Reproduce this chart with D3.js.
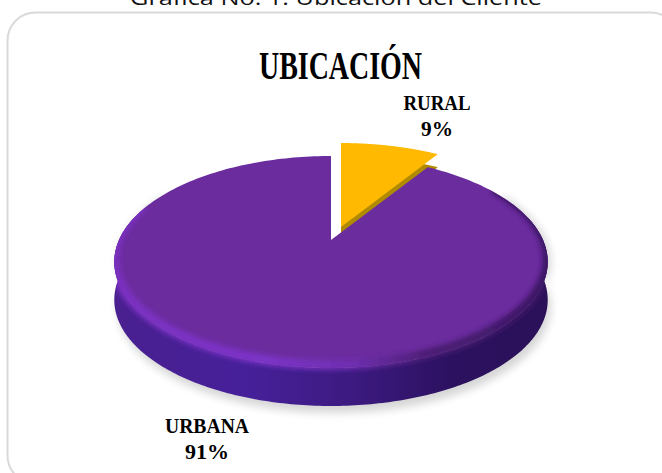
<!DOCTYPE html>
<html><head><meta charset="utf-8">
<script src="https://cdn.jsdelivr.net/npm/d3@7"></script>
<style>html,body{margin:0;background:#fff}svg{display:block}</style></head>
<body><svg id="c" width="662" height="473"></svg>
<script>
const categories = ["RURAL", "URBANA"];
const percents = [9, 91];
const labelText = ["9%", "91%"];
const titleText = "UBICACIÓN";
const captionText = "Gráfica No. 1: Ubicación del Cliente";
const topColors = ["#FFB900", "#6B2C9E"];

const svg = d3.select("#c");
const defs = svg.append("defs");
const cx = 331, cy = 240, A = 212, B = 101.4, K = 0.2075, depth = 38;
const project = (a, r = 1) => {
  const u = Math.sin(a) * r, v = -Math.cos(a) * r, w = 1 - K * v;
  return [A * u / w, B * v / w];
};
const pie = d3.pie().sort(null).value(d => d)(percents);
const line = d3.line();
const arcPts = (a0, a1) => d3.range(0, 241).map(i => project(a0 + (a1 - a0) * i / 240));
const wedge = d => line([[0, 0], ...arcPts(d.startAngle, d.endAngle)]) + "Z";
const frontAngles = [Math.acos(K), 2 * Math.PI - Math.acos(K)];
const sideShape = (a0, a1, dy) => {
  const t = arcPts(a0, a1), b = t.slice().reverse().map(p => [p[0], p[1] + dy]);
  return line([...t, ...b]) + "Z";
};

const grad = (id, stops) => {
  const g = defs.append("linearGradient").attr("id", id);
  stops.forEach(s => g.append("stop").attr("offset", s[0]).attr("stop-color", s[1]));
};
grad("side", [[0, "#4A2090"], [0.3, "#46209A"], [0.55, "#3C1A80"], [0.78, "#2C1160"], [1, "#2A1158"]]);
grad("hl", [[0, "#7A2FC0"], [0.35, "#7C34C8"], [0.55, "#6E2EB0"], [0.72, "#4C1E74"], [1, "#3A1664"]]);
const blur = (id, s) => defs.append("filter").attr("id", id).attr("x", "-20%").attr("y", "-20%")
  .attr("width", "140%").attr("height", "140%").append("feGaussianBlur").attr("stdDeviation", s);
blur("blur6", 4);
blur("blur2", 2.8);
defs.append("clipPath").attr("id", "bodyClip").selectAll("path")
  .data([wedge(pie[1]), sideShape(frontAngles[0] - 0.02, frontAngles[1] + 0.02, depth)])
  .join("path").attr("d", d => d);

svg.append("text").attr("x", 336).attr("y", 5).attr("text-anchor", "middle")
  .attr("font-family", "'Open Sans'").attr("font-size", 20).attr("fill", "#111")
  .attr("textLength", 412).attr("lengthAdjust", "spacingAndGlyphs").text(captionText);
svg.append("rect").attr("x", 7.5).attr("y", 12.5).attr("width", 671).attr("height", 471).attr("rx", 28)
  .attr("fill", "#fff").attr("stroke", "#D9D9D9").attr("stroke-width", 2);
svg.append("text").attr("x", 340.5).attr("y", 79).attr("text-anchor", "middle")
  .attr("font-family", "'Liberation Serif'").attr("font-weight", 700).attr("font-size", 39).attr("fill", "#000")
  .attr("textLength", 163).attr("lengthAdjust", "spacingAndGlyphs").text(titleText);

const pieG = svg.append("g").attr("transform", `translate(${cx},${cy})`);
pieG.append("path").attr("d", sideShape(frontAngles[0] - 0.3, frontAngles[1] + 0.3, depth + 7))
  .attr("fill", "#000").attr("opacity", 0.16).attr("filter", "url(#blur6)").attr("transform", "translate(3,0)");
const rural = pieG.append("g").attr("transform", "translate(10,-13)");
rural.append("path").attr("d", wedge(pie[0])).attr("transform", "translate(0,13)").attr("fill", "#B08B00");
rural.append("path").attr("d", wedge(pie[0])).attr("fill", topColors[0]);
pieG.append("path").attr("d", sideShape(frontAngles[0] - 0.02, frontAngles[1] + 0.02, depth)).attr("fill", "url(#side)");
pieG.append("path").attr("d", wedge(pie[1])).attr("fill", topColors[1]);
pieG.append("g").attr("clip-path", "url(#bodyClip)").append("path")
  .attr("d", line(arcPts(frontAngles[0] - 0.35, frontAngles[1] + 0.12).map(p => [p[0], p[1] - 3])))
  .attr("fill", "none").attr("stroke", "url(#hl)").attr("stroke-width", 10).attr("filter", "url(#blur2)");

const labelPos = [[437, 110, 136], [207, 433, 459]];
const widths = [[67, 32], [84, 44]];
const labels = svg.append("g").selectAll("g").data(categories).join("g");
labels.append("text").attr("x", (d, i) => labelPos[i][0]).attr("y", (d, i) => labelPos[i][1]).text(d => d);
labels.append("text").attr("x", (d, i) => labelPos[i][0]).attr("y", (d, i) => labelPos[i][2]).text((d, i) => labelText[i]);
labels.selectAll("text").attr("text-anchor", "middle").attr("font-family", "'Liberation Serif'")
  .attr("font-weight", 700).attr("font-size", 20).attr("fill", "#000");
labels.each(function (d, i) {
  d3.select(this).selectAll("text").attr("textLength", (_, j) => widths[i][j]).attr("lengthAdjust", "spacingAndGlyphs");
});
</script></body></html>
